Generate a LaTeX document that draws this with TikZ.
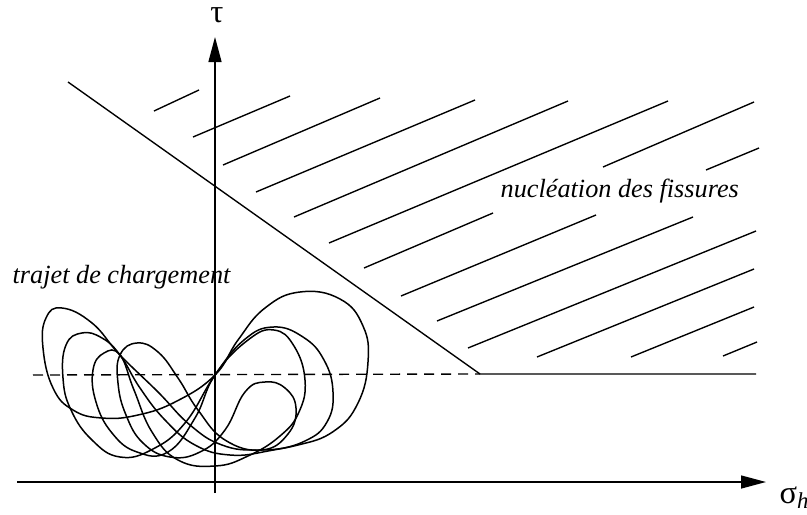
\documentclass[tikz,border=0pt]{standalone}
\usepackage{fontspec}
\setmainfont{Liberation Serif}
\usetikzlibrary{arrows.meta, positioning, calc}

\begin{document}
\begin{tikzpicture}[x=0.4pt, y=-0.4pt, >={Triangle[length=10pt, width=5.2pt]}, line width=0.55pt,
    greek/.style={inner sep=0pt, font=\fontsize{13}{13}\selectfont},
    zone/.style={inner sep=0pt, anchor=base west, font=\fontsize{10.5}{12}\selectfont\itshape},
    cycleload/.style={line width=0.6pt, smooth cycle, tension=0.75}]
  \useasboundingbox (0,0) rectangle (807,514);
  % axes
  \coordinate (xl) at (17,482);
  \coordinate (xr) at (766,482);
  \coordinate (yb) at (215,493);
  \coordinate (yt) at (215,37);
  \draw [->] (xl) -- (xr);
  \draw [->] (yb) -- (yt);
  \node [greek] (tau) at (217,15) {τ};
  \node [greek, anchor=base west] (sig) at (779,503) {σ\textsubscript{\itshape h}};
  % limite de fatigue
  \coordinate (la) at (68,82);
  \coordinate (lk) at (480,374);
  \coordinate (lr) at (756,374);
  \coordinate (dl) at (33,375);
  \draw (la) -- (lk) -- (lr);
  \draw [dash pattern=on 4pt off 2.8pt] (dl) -- (lk);
  % hachures
  \foreach \xa/\ya/\xb/\yb in {154/111/199/90, 193/137/290/96, 223/165/380/98, 256/192/475/100,
      294/217/568/101, 329/243/668/101, 364/268/493/213, 603/167/754/102,
      401/296/596/215, 706/170/759/148, 437/321/693/217, 468/348/756/231,
      537/357/754/269, 631/357/754/307, 723/356/757/342}
    {\draw (\xa,\ya) -- (\xb,\yb);}
  \node [zone] (nuc) at (500,197) {nucléation des fissures};
  \node [zone] (traj) at (12,283) {trajet de chargement};
  % trajets
  \draw [cycleload] plot coordinates {(215,375) (238,340) (265,308) (300,292) (340,299)
    (363,326) (368,362) (358,403) (334,431) (298,445) (258,450) (222,445) (190,425)
    (158,392) (120,355) (92,323) (62,308) (46,318) (43,348) (53,388) (73,410) (102,418)
    (138,415) (177,401)};
  \draw [cycleload] plot coordinates {(215,375) (244,340) (273,327) (303,337) (324,360)
    (333,392) (327,422) (305,441) (268,451) (230,455) (195,445) (165,420) (140,388)
    (120,355) (102,338) (82,333) (66,345) (63,378) (71,410) (92,440) (120,457) (153,449)
    (185,423)};
  \draw [cycleload] plot coordinates {(215,375) (248,340) (274,330) (294,346) (305,380)
    (299,412) (280,436) (248,456) (215,466) (178,460) (152,432) (134,390) (120,355)
    (104,353) (93,370) (96,402) (112,433) (137,452) (168,452) (195,418)};
  \draw [cycleload] plot coordinates {(120,355) (137,343) (158,352) (178,378) (198,410)
    (225,440) (262,450) (288,434) (296,408) (285,388) (265,382) (245,392) (225,430)
    (200,452) (170,457) (143,443) (126,415) (118,383)};
\end{tikzpicture}
\end{document}
